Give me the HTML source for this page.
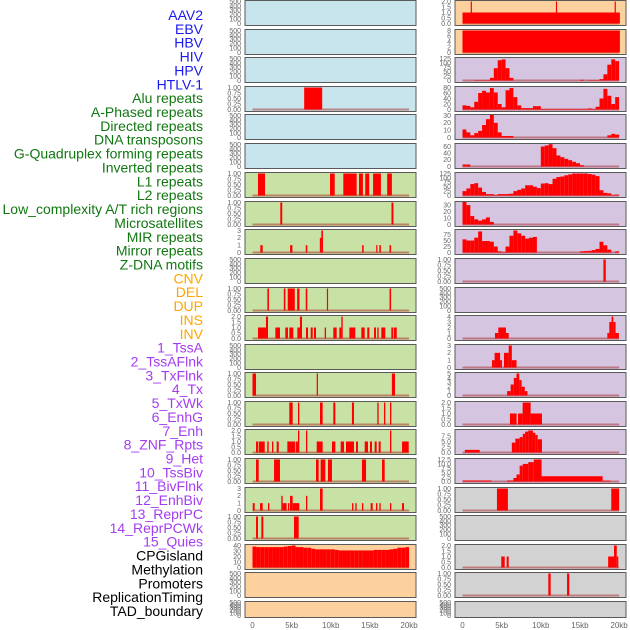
<!DOCTYPE html>
<html><head><meta charset="utf-8"><style>
html,body{margin:0;padding:0;background:#fff;width:630px;height:630px;overflow:hidden}
svg{display:block;font-family:"Liberation Sans",sans-serif}
</style></head><body>
<svg id="chart" width="630" height="630" viewBox="0 0 630 630" xmlns="http://www.w3.org/2000/svg"></svg>
<script>
// ---- labels ----
const rowLabels = ["AAV2","EBV","HBV","HIV","HPV","HTLV-1","Alu repeats","A-Phased repeats","Directed repeats","DNA transposons","G-Quadruplex forming repeats","Inverted repeats","L1 repeats","L2 repeats","Low_complexity A/T rich regions","Microsatellites","MIR repeats","Mirror repeats","Z-DNA motifs","CNV","DEL","DUP","INS","INV","1_TssA","2_TssAFlnk","3_TxFlnk","4_Tx","5_TxWk","6_EnhG","7_Enh","8_ZNF_Rpts","9_Het","10_TssBiv","11_BivFlnk","12_EnhBiv","13_ReprPC","14_ReprPCWk","15_Quies","CPGisland","Methylation","Promoters","ReplicationTiming","TAD_boundary"];
const labelGroupSizes = [6,13,5,15,5];
const labelGroupColors = ["#1a1aee","#117711","#ffa500","#a43cf0","#000000"];
// ---- tick sets ----
const T500 = ["0","100","200","300","400","500"];
const T1 = ["0.00","0.25","0.50","0.75","1.00"];
const T2 = ["0.0","0.5","1.0","1.5","2.0"];
const T3 = ["0","1","2","3"];
const T4 = ["0","1","2","3","4"];
const T5 = ["0","1","2","3","4","5"];
const T8 = ["0","2","4","6","8"];
const T10 = ["0.0","2.5","5.0","7.5"];
const T12 = ["0.0","2.5","5.0","7.5","10.0","12.5"];
const T30 = ["0","10","20","30"];
const T40 = ["0","10","20","30","40"];
const T60 = ["0","20","40","60"];
const T75 = ["0","25","50","75"];
const T80 = ["0","20","40","60","80"];
const T125 = ["0","25","50","75","100","125"];
const xTicks = ["0","5kb","10kb","15kb","20kb"];
const xTickVals = [0,5,10,15,20];
// ---- left column data: [startKb,endKb,value] ----
const L_alu = [[6.6,8.9,1]];
const L_l1 = [[0.7,1.6,1],[9.9,10.5,1],[11.6,13.3,1],[13.6,14.1,1],[14.4,14.9,1],[15.4,16.4,1],[17.2,17.8,1]];
const L_l2 = [[3.55,3.8,1],[17.75,18.0,1]];
const L_mir = [[1.0,1.3,1],[4.8,5.1,1],[6.8,7.0,1],[8.6,8.8,2],[8.8,9.0,3],[14.0,14.2,1],[15.8,15.95,1],[16.2,16.4,1],[17.5,17.7,1]];
const L_del = [[1.9,2.1,1],[4.0,4.2,1],[4.5,5.4,1],[5.7,6.0,1],[6.8,7.0,1],[9.5,9.65,1],[17.5,17.7,1]];
const L_ins = [[0.7,1.72,1],[1.72,1.98,2],[2.92,3.51,1],[4.19,4.53,1],[4.7,5.21,1],[5.73,6.06,1],[6.06,6.32,2],[6.83,7.09,1],[7.43,7.69,1],[7.85,8.11,1],[9.22,9.39,1],[10.32,10.75,1],[11.09,11.35,1],[11.35,11.52,2],[12.37,13.13,1],[13.9,14.33,1],[14.66,14.92,1],[15.52,15.77,1],[15.94,16.11,1],[16.45,16.96,1],[17.73,17.98,1],[18.07,18.42,1]];
const L_tssaflnk = [[0.0,0.45,1],[8.2,8.36,1],[17.8,18.2,1]];
const L_txflnk = [[4.7,5.13,1],[5.81,5.98,1],[8.62,8.96,1],[10.32,10.58,1],[12.7,12.96,1],[15.94,16.11,1],[16.79,16.96,1],[17.56,17.73,1]];
const L_tx = [[0.45,0.7,1],[0.79,1.56,1],[1.89,2.07,1],[2.49,2.66,1],[3.09,3.35,1],[4.45,5.47,1],[5.56,5.81,1],[5.81,5.98,2],[6.83,7.0,2],[8.2,8.96,1],[10.15,10.58,1],[11.26,11.69,1],[11.94,12.96,1],[13.22,13.47,1],[14.33,14.75,1],[15.0,15.26,1],[15.6,15.86,1],[16.11,16.37,1],[17.56,17.73,2],[19.1,19.95,1]];
const L_txwk = [[0.45,0.79,1],[2.75,3.51,1],[8.11,8.45,1],[8.7,9.3,1],[9.64,10.15,1],[13.98,14.5,1],[16.54,16.88,1]];
const L_enhg = [[0.03,0.28,1],[0.96,1.3,1],[1.98,2.15,1],[3.68,3.85,2],[3.85,4.36,1],[4.53,4.7,1],[4.79,5.13,2],[5.13,5.98,1],[6.83,7.0,2],[8.62,8.96,3],[12.71,12.88,1],[13.13,13.3,1],[13.98,14.15,1],[15.09,15.35,1],[15.77,15.94,1],[16.2,16.37,1],[17.56,17.73,1],[19.1,19.35,1]];
const L_enh = [[0.45,0.7,1],[1.13,1.38,1],[5.3,5.9,1]];
const L_cpg = [38,37,37,37,37,37,37,37,38,39,40,37,37,36,36,34,33,33,33,33,33,32,31,31,31,31,31,31,31,31,31,32,32,32,32,33,34,36,36,37];
// ---- right column data ----
const R_aav2 = [[0,20.1,1],[1.05,1.2,2],[11.93,12.08,2],[19.43,19.58,2]];
const R_ebv = [[0,20.1,8]];
const R_hiv = [0,0,0,2,2,2,2,15,70,115,120,70,15,0,0,0,0,0,0,0,0,0,0,0,0,0,0,0,0,0,4,0,2,2,2,8,35,90,120,110];
const R_hpv = [15,13,8,28,60,68,62,78,62,20,8,70,78,45,15,5,5,5,12,12,2,2,2,2,2,2,2,2,2,2,2,2,4,2,10,40,75,50,20,45];
const R_htlv = [11,7,3,6,9,17,25,31,20,7,2,2,2,0,0,0,0,0,0,0,0,0,0,0,0,0,0,0,0,0,0,0,0,0,0,0,0,3,5,4];
const R_alu = [6,6,0,0,0,0,0,0,0,0,0,0,0,0,0,0,0,0,0,0,60,63,67,55,33,28,23,19,14,10,4,0,0,0,0,0,0,0,0,0];
const R_aphased = [25,40,65,70,45,20,8,8,3,8,8,8,10,25,32,40,58,58,50,42,68,70,65,95,105,108,115,120,125,125,125,125,122,118,110,30,15,12,3,5];
const R_directed = [38,30,13,8,6,8,11,4,0,0,0,0,0,0,0,0,0,0,0,0,0,0,0,0,0,0,0,0,0,0,0,0,0,0,0,0,0,0,0,0];
const R_dnatrans = [55,50,50,62,88,48,48,45,25,5,2,25,70,92,80,70,58,62,65,0,0,0,0,0,0,0,0,0,0,0,5,6,7,10,15,45,30,12,0,5];
const R_gquad = [[18.0,18.3,1]];
const R_l1 = [[4.15,4.57,1],[4.57,5.55,2],[5.55,5.9,1],[18.5,18.75,1],[18.75,19.04,3],[19.04,19.26,4],[19.26,19.55,3],[19.55,19.97,1]];
const R_l2 = [[3.77,4.1,1],[4.1,4.8,2],[4.8,5.04,1],[5.3,5.9,2],[5.9,6.3,3],[6.3,6.9,1]];
const R_lowc = [[5.7,6.15,1],[6.15,6.55,2.5],[6.55,6.9,4],[6.9,7.25,5],[7.25,7.55,3.5],[7.55,7.95,2],[7.95,8.3,1]];
const R_micro = [[6.06,6.91,1],[7.09,7.68,1],[7.68,8.7,2],[8.7,10.15,1]];
const R_mir = [[0.3,2.2,1.2],[6.3,6.75,4.5],[6.75,7.3,6.3],[7.3,7.7,7],[7.7,8.0,8.5],[8.0,8.4,9.5],[8.4,9.0,10],[9.0,9.3,9],[9.3,9.6,8],[9.6,10.15,6]];
const R_mirror = [[0,3.7,0.6],[5.7,6.5,0.6],[6.5,6.9,2],[6.9,7.3,4],[7.3,7.7,9],[7.7,8.4,10],[8.4,9.1,11],[9.1,10.1,12.5],[10.1,17.9,3],[17.9,18.9,0.5]];
const R_cnv = [[4.4,5.8,1],[19.0,20.0,1]];
const R_ins = [[4.95,5.39,1],[5.64,5.9,1],[18.6,19.35,1],[19.35,19.7,2],[19.7,19.9,1]];
const R_inv = [[10.96,11.26,1],[13.35,13.64,1]];

const panelTops = [0,29,57,86,114,143,172,201,229,258,287,315,344,372,401,429,458,487,515,544,572,601];
const BLUE="#c8e4ec", GREEN="#c8e1a5", ORANGE="#fdd19e", PURPLE="#d5c5e1", GRAY="#d2d2d2";
// left panel specs: [ticks, bg, data, kind, max]
const leftPanels = [
 [T500,BLUE,null],[T500,BLUE,null],[T500,BLUE,null],[T1,BLUE,L_alu,"bars"],[T500,BLUE,null],[T500,BLUE,null],
 [T1,GREEN,L_l1,"bars"],[T1,GREEN,L_l2,"bars"],[T3,GREEN,L_mir,"bars"],[T500,GREEN,null],[T1,GREEN,L_del,"bars"],
 [T2,GREEN,L_ins,"bars"],[T500,GREEN,null],[T1,GREEN,L_tssaflnk,"bars"],[T1,GREEN,L_txflnk,"bars"],[T2,GREEN,L_tx,"bars"],
 [T1,GREEN,L_txwk,"bars"],[T3,GREEN,L_enhg,"bars"],[T1,GREEN,L_enh,"bars"],[T40,ORANGE,L_cpg,"bins"],[T500,ORANGE,null],[T500,ORANGE,null]];
const rightPanels = [
 [T2,ORANGE,R_aav2,"bars"],[T8,ORANGE,R_ebv,"bars"],[T125,PURPLE,R_hiv,"bins"],[T80,PURPLE,R_hpv,"bins"],[T30,PURPLE,R_htlv,"bins"],
 [T60,PURPLE,R_alu,"bins",66],[T125,PURPLE,R_aphased,"bins"],[T30,PURPLE,R_directed,"bins",34],[T75,PURPLE,R_dnatrans,"bins",92],
 [T1,PURPLE,R_gquad,"bars"],[T500,PURPLE,null],[T4,PURPLE,R_l1,"bars"],[T3,PURPLE,R_l2,"bars"],[T5,PURPLE,R_lowc,"bars"],
 [T2,PURPLE,R_micro,"bars"],[T10,PURPLE,R_mir,"bars",10],[T12,PURPLE,R_mirror,"bars"],[T1,GRAY,R_cnv,"bars"],[T500,GRAY,null],
 [T2,GRAY,R_ins,"bars"],[T1,GRAY,R_inv,"bars"],[T500,GRAY,null]];

const NS="http://www.w3.org/2000/svg";
const svg=document.getElementById('chart');
function mk(tag,attrs,parent){const e=document.createElementNS(NS,tag);for(const k in attrs)e.setAttribute(k,attrs[k]);(parent||svg).appendChild(e);return e;}

// row labels
let gi=0,cnt=0;
rowLabels.forEach((t,i)=>{
  while(cnt>=labelGroupSizes[gi]){gi++;cnt=0;}
  cnt++;
  const el=mk('text',{x:203,y:20+13.86*i,'text-anchor':'end','font-size':'14',fill:labelGroupColors[gi]});
  el.textContent=t;
  
  
});

function drawColumn(specs,px,x0,side){
  const kx=7.83;
  const xs=v=>x0+v*kx;
  specs.forEach((s,i)=>{
    const ticks=s[0],bg=s[1],data=s[2],kind=s[3];
    const top=panelTops[i], h=(i===21?16:25), bot=top+h;
    const vmax=s[4]!==undefined?s[4]:parseFloat(ticks[ticks.length-1]);
    const ys=v=>bot-1.5-(v/vmax)*(h-3);
    const g=mk('g',{});
    
    
    const r=mk('rect',{x:px,y:top+0.5,width:171,height:h,fill:bg,stroke:'#5a5a5a','stroke-width':1},g);
    
    
    ticks.forEach(tl=>{
      const v=parseFloat(tl);
      const t=mk('text',{x:px-4,y:ys(v)+2.4,'text-anchor':'end','font-size':'7',fill:'#666'},g);
      t.textContent=tl;
      
      
    });
    if(!data) return;
    const cg=mk('g',{},g);
    
    
    const base=mk('rect',{x:xs(0),y:ys(0)-1,width:xs(20)-xs(0),height:2,fill:'rgba(170,40,40,0.5)'},cg);
    
    
    let bars=[];
    if(kind==='bins'){data.forEach((v,k)=>{if(v>0)bars.push([k*0.5,k*0.5+0.5,v]);});}
    else bars=data;
    bars.forEach(b=>{
      const yt=Math.max(top+1,ys(b[2]));
      const e=mk('rect',{x:xs(b[0]),y:yt,width:Math.max(1.2,xs(b[1])-xs(b[0])),height:ys(0)-yt,fill:'#ff0000'},cg);
      
      
    });
  });
  xTickVals.forEach((v,j)=>{
    const t=mk('text',{x:xs(v),y:628,'text-anchor':'middle','font-size':'8',fill:'#666'});
    t.textContent=xTicks[j];
    
    
  });
}
drawColumn(leftPanels,245,252.5,'left');
drawColumn(rightPanels,455,462.5,'right');
</script>
</body></html>
